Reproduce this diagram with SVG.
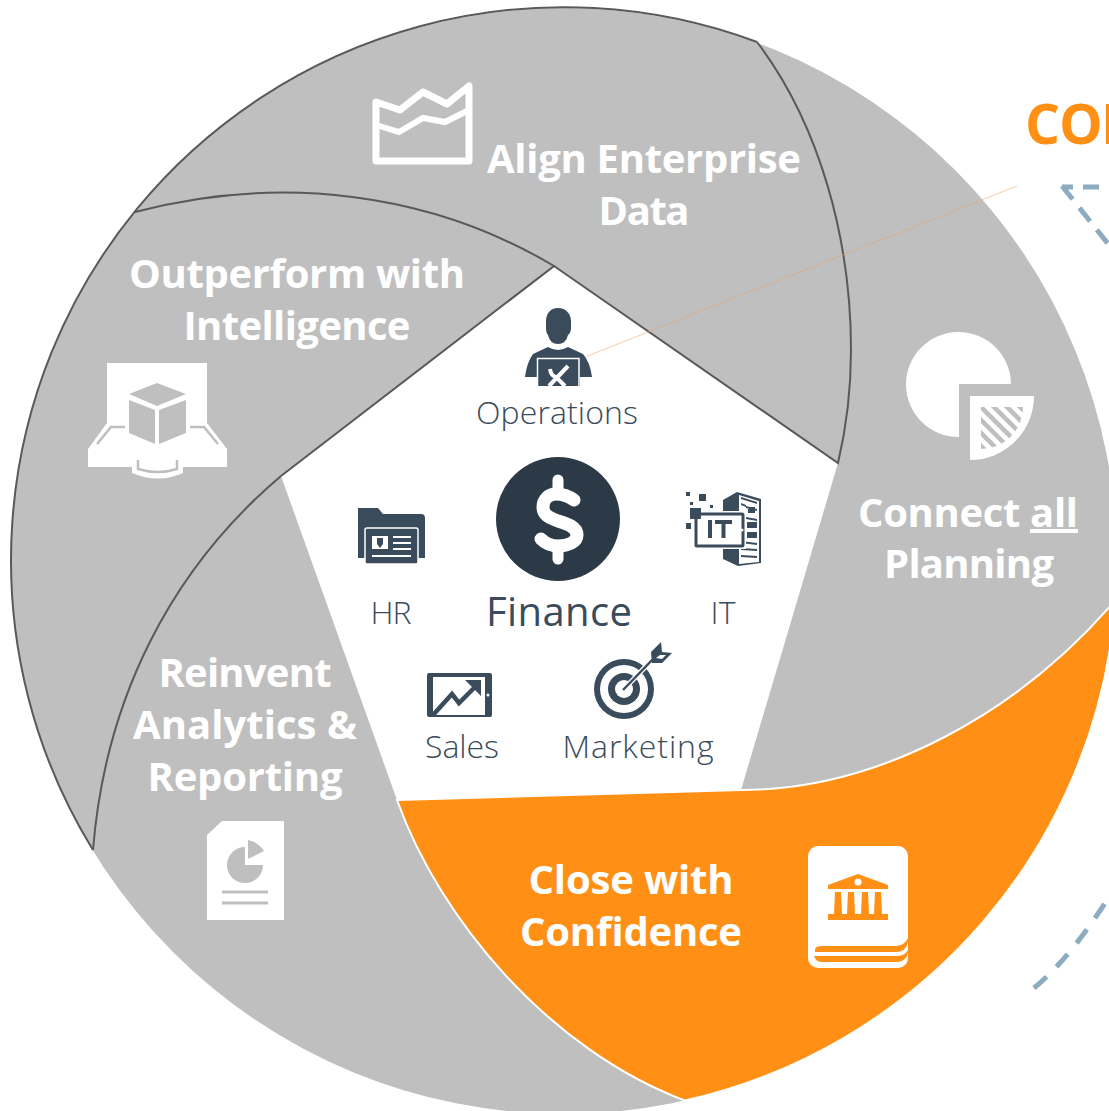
<svg xmlns="http://www.w3.org/2000/svg" width="1109" height="1111" viewBox="0 0 1109 1111">
<style>
.h{font-family:"Open Sans","Noto Sans","Liberation Sans",sans-serif;font-weight:700;font-size:40px;fill:#fff;text-anchor:middle}
.s{font-family:"Open Sans","Noto Sans","Liberation Sans",sans-serif;font-weight:300;font-size:32px;fill:#3a4b5c;text-anchor:middle}
.e{fill:none;stroke:#595959;stroke-width:2}
.d{fill:#3a4b5c}
.w{fill:#fff}
.g{fill:#bfbfbf}
.o{fill:#ff9015}
.dash{fill:none;stroke:#8cacc0;stroke-width:5}
</style>
<defs>
<clipPath id="q"><path d="M981,407H1023A42,42 0 0 1 981,449Z"/></clipPath>
</defs>
<rect width="1109" height="1111" fill="#fff"/>
<g id="wheel">
<circle class="g" cx="564" cy="561" r="553"/>
<path class="o" stroke="#fff" stroke-width="2" d="M397,800L741,790C880,790 1020,712 1115.600,600A553,553 0 0 1 685,1100.600C550,1050 440,920 397,800Z"/>
<path class="w" d="M554,266L838,463L741,790L397,800L281,476Z"/>
</g>
<g id="connectors">
<path class="e" d="M757,42A553,553 0 0 0 93,850"/>
<path class="e" d="M757,42C820,125 851,240 851,350C851,390 847,425 838,463L554,266"/>
<path class="e" d="M135,212C280,174 430,192 554,266L281,476"/>
<path class="e" d="M281,476C170,570 105,700 93,850"/>
<path d="M585,357L1017,186" fill="none" stroke="#e8a468" stroke-opacity=".55" stroke-width="1"/>
<path class="dash" d="M1062,187H1073M1083,187H1099"/>
<path class="dash" d="M1062,186L1109,245" stroke-dasharray="17 11"/>
<path class="dash" d="M1034,988C1062,965 1088,930 1109,897" stroke-dasharray="17 14"/>
</g>
<g id="title"><text x="1025 1059 1101" y="144" font-family="'Open Sans','Liberation Sans',sans-serif" font-weight="700" font-size="55" fill="#ff9015">CON</text></g>
<g id="align">
<path d="M376,102L400,110L423,92L447,104L469,86V161H376Z" fill="none" stroke="#fff" stroke-width="7" stroke-linejoin="round"/>
<path d="M376,125L399,132L423,118L445,122L469,110" fill="none" stroke="#fff" stroke-width="6"/>
<text class="h" x="644" y="173" textLength="314">Align Enterprise</text>
<text class="h" x="644" y="225" textLength="91">Data</text>
</g>
<g id="outperform">
<text class="h" x="297" y="288" textLength="336">Outperform with</text>
<text class="h" x="297" y="340" textLength="227">Intelligence</text>
<path class="w" d="M107,363H207V423L227,449V467H183V473Q158,484 132,473V467H88V449L107,423Z"/>
<path d="M97,444L111,427H125M190,427H204L218,444" fill="none" stroke="#bfbfbf" stroke-width="2.500"/>
<path d="M138,460V469Q158,475 177,469V460" fill="none" stroke="#bfbfbf" stroke-width="2.500"/>
<path class="g" d="M157,383L186,394L157,406L129,394Z"/>
<path class="g" d="M129,400L155,410V444L129,433Z"/>
<path class="g" d="M159,410L186,400V433L159,444Z"/>
</g>
<g id="connect">
<path class="w" d="M959,437A52.500,52.500 0 1 1 1011,384H959Z"/>
<path class="w" d="M970,396H1034A64,64 0 0 1 970,460Z"/>
<g clip-path="url(#q)" stroke="#bfbfbf" stroke-width="4.500">
<path d="M930,395L990,455M943,395L1003,455M956,395L1016,455M969,395L1029,455M982,395L1042,455M995,395L1055,455M1008,395L1068,455"/>
</g>
<text class="h" x="968" y="527" textLength="220">Connect <tspan text-decoration="underline">all</tspan></text>
<text class="h" x="969" y="578" textLength="170">Planning</text>
</g>
<g id="reinvent">
<text class="h" x="245" y="687" textLength="173">Reinvent</text>
<text class="h" x="245" y="739" textLength="224">Analytics &amp;</text>
<text class="h" x="245" y="791" textLength="195">Reporting</text>
<path class="w" d="M222,821H284V920H207V835Z"/>
<path class="g" d="M245,847A18,18 0 1 0 263,865L245,865Z"/>
<path class="g" d="M248,840Q258,842 264,851L248,859Z"/>
<path d="M222,892H268M222,903H268" stroke="#bfbfbf" stroke-width="3"/>
</g>
<g id="close">
<text class="h" x="631" y="894" textLength="205">Close with</text>
<text class="h" x="631" y="946" textLength="222">Confidence</text>
<rect class="w" x="808" y="846" width="100" height="122" rx="10"/>
<path class="o" d="M815,952Q814,946 821,946H896Q905,945 908,938V942Q906,952 896,952Z"/>
<path class="o" d="M814,956H896Q905,956 908,950V953Q906,962 896,962H822Q816,962 814,956Z"/>
<path class="o" d="M858,874L888,885V889H828V885Z"/>
<circle class="w" cx="858" cy="882" r="3.500"/>
<path class="o" d="M835,892H841L842,914H834ZM848,892H854L855,914H847ZM862,892H868L869,914H861ZM875,892H881L882,914H874ZM828,914H888V920H828Z"/>
</g>
<g id="operations">
<path class="d" d="M558,308C566,308 571,314 571,321V328Q571,333 568,335Q566,344 558,344Q550,344 548,335Q546,333 546,328V321C546,314 550,308 558,308Z"/>
<path class="d" d="M548,347Q558,353 568,347L583,354Q590,362 592,377H580V386H537V377H525Q527,362 533,354Z"/>
<path d="M537.500,386V358.500H579V386" fill="none" stroke="#fff" stroke-width="1.500"/>
<path d="M568,366L549,386M550,369Q551,376 556,377L565,386" fill="none" stroke="#fff" stroke-width="4"/>
<text class="s" x="557" y="424" textLength="162">Operations</text>
</g>
<g id="finance">
<circle cx="558" cy="519" r="62" fill="#2c3a47"/>
<path d="M574,500C567,495 561,494 556,494C548,494 543,500 543,507C543,516 551,518 558,521C568,524 577,527 577,535C577,542 568,546 558,546C552,546 546,544 541,539" fill="none" stroke="#fff" stroke-width="13" stroke-linecap="round"/>
<path d="M558,480V494M558,546V559" fill="none" stroke="#fff" stroke-width="11" stroke-linecap="round"/>
<text class="s" x="559" y="626" textLength="146" style="font-size:40px;font-weight:400">Finance</text>
</g>
<g id="hr">
<path class="d" d="M358,508H378L383,514H421Q425,514 425,518V558H418V563H366V558H358Z"/>
<rect x="365" y="528" width="53" height="36" rx="2" fill="#3a4b5c" stroke="#fff" stroke-width="1.500"/>
<path class="w" d="M372,536H388V549H372Z"/>
<path class="d" d="M377,538H383V544L380,548L377,544Z"/>
<path d="M393,537H411M393,543H411M393,549H411M372,556H411" stroke="#fff" stroke-width="2"/>
<text class="s" x="391" y="624" textLength="41">HR</text>
</g>
<g id="it">
<path class="d" d="M723,500L737,492L761,499V563L738,566L723,559Z"/>
<path class="w" d="M739,495L759,501V562L739,564Z"/>
<path class="d" d="M741,497L757,502V504L741,499ZM741,503L746,505V507L741,505ZM748,507H755V513H748ZM757,509V511L746,508V506ZM746,517L757,519V521L746,519ZM747,522H757V528H747ZM747,532H757V538H747ZM741,541L757,543V545L741,543ZM741,548L757,549V551L741,550ZM741,555L757,556V558L741,557Z"/>
<rect x="693" y="511" width="53" height="38" fill="#fff"/>
<rect x="696" y="514" width="47" height="32" rx="1" fill="none" stroke="#3a4b5c" stroke-width="3"/>
<circle class="w" cx="742" cy="530" r="1.500"/>
<path class="d" d="M708,520H712V538H708ZM715,520H732V524H725.500V538H721.500V524H715Z"/>
<path class="d" d="M686,492H690V496H686ZM699,494H706V501H699ZM690,502H693V505H690ZM710,505H713V508H710ZM690,508H701V519H690ZM686,523H691V529H686Z"/>
<text class="s" x="723" y="624" textLength="25">IT</text>
</g>
<g id="sales">
<rect class="d" x="427" y="673" width="65" height="44" rx="2"/>
<rect class="w" x="433" y="677" width="52" height="38"/>
<circle class="w" cx="488" cy="695" r="1.500"/>
<path d="M433,715L452,694L459,703L478,684" fill="none" stroke="#3a4b5c" stroke-width="4.500"/>
<path class="d" d="M465,680H481V696Z"/>
<text class="s" x="462" y="758" textLength="74">Sales</text>
</g>
<g id="marketing">
<circle class="d" cx="624" cy="689" r="30"/>
<circle class="w" cx="624" cy="689" r="24"/>
<circle class="d" cx="624" cy="689" r="16"/>
<circle class="w" cx="624" cy="689" r="9"/>
<path d="M623,690L652,660" stroke="#fff" stroke-width="5"/>
<path d="M623,690L655,657" stroke="#3a4b5c" stroke-width="2.500"/>
<path class="d" d="M651,652L661,642L662,652L672,653L662,663H652Z"/>
<path class="w" d="M656,658L660,655H666L662,659Z"/>
<text class="s" x="638" y="758" textLength="151">Marketing</text>
</g>
</svg>
